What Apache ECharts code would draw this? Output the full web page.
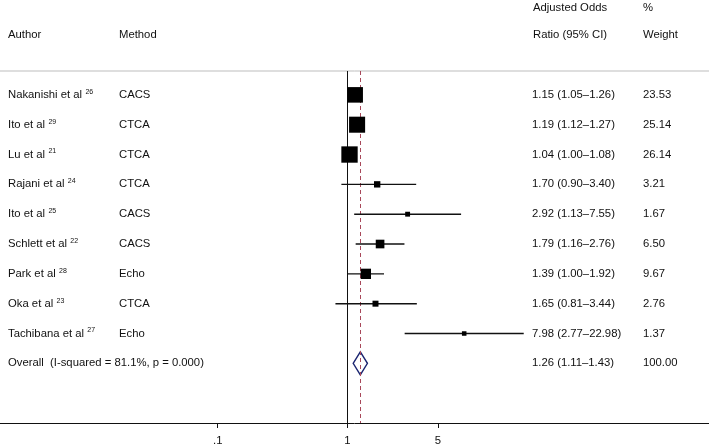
<!DOCTYPE html>
<html>
<head>
<meta charset="utf-8">
<script src="https://cdn.jsdelivr.net/npm/echarts@6/dist/echarts.min.js"></script>
<style>
  html, body { margin: 0; padding: 0; background: #fff; }
  #chart { width: 709px; height: 446px; }
</style>
</head>
<body>
<div id="chart"></div>
<script>
// study rows, top to bottom
const authors = ["Nakanishi et al", "Ito et al", "Lu et al", "Rajani et al", "Ito et al", "Schlett et al", "Park et al", "Oka et al", "Tachibana et al"];
const refs = ["26", "29", "21", "24", "25", "22", "28", "23", "27"];
const methods = ["CACS", "CTCA", "CTCA", "CTCA", "CACS", "CACS", "Echo", "CTCA", "Echo"];
const oddsRatio = [1.15, 1.19, 1.04, 1.70, 2.92, 1.79, 1.39, 1.65, 7.98];
const lower = [1.05, 1.12, 1.00, 0.90, 1.13, 1.16, 1.00, 0.81, 2.77];
const upper = [1.26, 1.27, 1.08, 3.40, 7.55, 2.76, 1.92, 3.44, 22.98];
const weights = [23.53, 25.14, 26.14, 3.21, 1.67, 6.50, 9.67, 2.76, 1.37];

// pooled estimate
const overallLabel = "Overall  (I-squared = 81.1%, p = 0.000)";
const overallOR = 1.26;
const overallLower = 1.11;
const overallUpper = 1.43;
const overallWeight = 100.00;

// x axis ticks (odds ratio, log scale)
const tickValues = [0.1, 1, 5];
const tickLabels = [".1", "1", "5"];

const FONT = "'Liberation Sans', Arial, sans-serif";
const FS = 11.3;
const lg = v => Math.log10(v);
const fmtCI = (e, l, h) => `${e.toFixed(2)} (${l.toFixed(2)}\u2013${h.toFixed(2)})`;

const studyData = oddsRatio.map((e, i) => [i, lg(e), lg(lower[i]), lg(upper[i]), weights[i]]);

const chart = echarts.init(document.getElementById("chart"));

const label = (x, y, text) => ({
  type: "text",
  x: x, y: y,
  style: { text: text, fill: "#111", font: `${FS}px ${FONT}`, verticalAlign: "middle" }
});

chart.setOption({
  animation: false,
  backgroundColor: "#fff",
  grid: { left: 0, right: 0, top: 71, bottom: 23 },
  xAxis: {
    type: "value",
    min: -2.68,
    max: 2.791,
    splitLine: { show: false },
    axisLine: { onZero: false, lineStyle: { color: "#111", width: 1 } },
    axisTick: { customValues: tickValues.map(lg), length: 5, lineStyle: { color: "#111" } },
    axisLabel: {
      customValues: tickValues.map(lg),
      color: "#111",
      fontFamily: FONT,
      fontSize: FS,
      margin: 12,
      formatter: v => {
        const i = tickValues.findIndex(t => Math.abs(lg(t) - v) < 1e-6);
        return i >= 0 ? tickLabels[i] : "";
      }
    }
  },
  yAxis: {
    type: "value",
    inverse: true,
    min: -0.8,
    max: 11,
    show: false
  },
  graphic: [
    { type: "line", shape: { x1: 0, y1: 71, x2: 709, y2: 71 }, style: { stroke: "#bdbdbd", lineWidth: 1 } },
    label(8, 35, "Author"),
    label(119, 35, "Method"),
    label(533, 8, "Adjusted Odds"),
    label(533, 35, "Ratio (95% CI)"),
    label(643, 8, "%"),
    label(643, 35, "Weight")
  ],
  series: [
    {
      type: "custom",
      data: studyData,
      renderItem: (params, api) => {
        const row = api.value(0);
        const c = api.coord([api.value(1), row]);
        const a = api.coord([api.value(2), row]);
        const b = api.coord([api.value(3), row]);
        const s = 3.0 * Math.sqrt(api.value(4)) + 1;
        const i = params.dataIndex;
        return {
          type: "group",
          children: [
            { type: "line", shape: { x1: a[0], y1: a[1], x2: b[0], y2: b[1] }, style: { stroke: "#111", lineWidth: 1.4 } },
            { type: "rect", shape: { x: c[0] - s / 2, y: c[1] - s / 2, width: s, height: s }, style: { fill: "#000" } },
            {
              type: "text", x: 8, y: c[1],
              style: {
                text: `{a|${authors[i]}} {s|${refs[i]}}`,
                verticalAlign: "middle",
                rich: {
                  a: { fontFamily: FONT, fontSize: FS, fill: "#111", color: "#111" },
                  s: { fontFamily: FONT, fontSize: 7, fill: "#111", color: "#111", padding: [0, 0, 6, 0] }
                }
              }
            },
            label(119, c[1], methods[i]),
            label(532, c[1], fmtCI(oddsRatio[i], lower[i], upper[i])),
            label(643, c[1], weights[i].toFixed(2))
          ]
        };
      },
      z: 5
    },
    {
      type: "custom",
      data: [[9, lg(overallOR), lg(overallLower), lg(overallUpper)]],
      renderItem: (params, api) => {
        const row = api.value(0);
        const c = api.coord([api.value(1), row]);
        const a = api.coord([api.value(2), row]);
        const b = api.coord([api.value(3), row]);
        const h = 11.5;
        return {
          type: "group",
          children: [
            {
              type: "polygon",
              shape: { points: [[a[0], c[1]], [c[0], c[1] - h], [b[0], c[1]], [c[0], c[1] + h]] },
              style: { fill: "#fff", stroke: "#1a2470", lineWidth: 1.4 }
            },
            label(8, c[1], overallLabel),
            label(532, c[1], fmtCI(overallOR, overallLower, overallUpper)),
            label(643, c[1], overallWeight.toFixed(2))
          ]
        };
      },
      z: 4
    },
    {
      type: "line",
      data: [],
      markLine: {
        silent: true,
        symbol: "none",
        label: { show: false },
        data: [
          { xAxis: 0, lineStyle: { color: "#111", type: "solid", width: 1 } },
          { xAxis: lg(overallOR), lineStyle: { color: "#a8485a", type: [4, 3], width: 1 } }
        ]
      },
      z: 6
    }
  ]
});
</script>
</body>
</html>
